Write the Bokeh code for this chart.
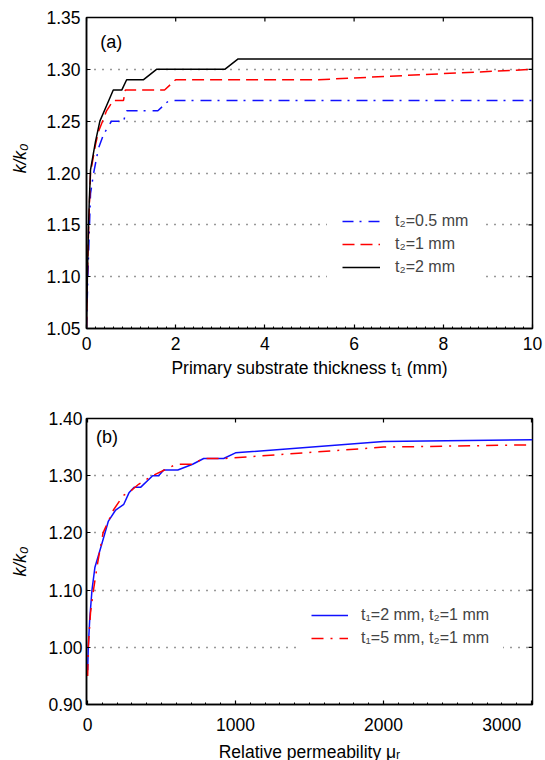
import math
from bokeh.plotting import figure
from bokeh.models import (Range1d, SingleIntervalTicker, FixedTicker,
                          NumeralTickFormatter, Legend, LegendItem, Label)
from bokeh.layouts import column
from bokeh.embed import file_html
from bokeh.resources import INLINE

FONT = "Liberation Sans"

# ---------------- data, panel (a) ----------------
t1_a_half = [0, 0.03, 0.06, 0.09, 0.16, 0.27, 0.38, 0.56, 0.83, 0.9, 1.6, 1.85, 10]
k_a_half = [1.05, 1.10, 1.14, 1.18, 1.20, 1.224, 1.237, 1.25, 1.25, 1.26, 1.26, 1.27, 1.27]

t1_a_one = [0, 0.02, 0.05, 0.09, 0.2, 0.27, 0.45, 0.6, 0.83, 0.87, 1.75, 2.0, 5.2, 10]
k_a_one = [1.05, 1.10, 1.15, 1.20, 1.227, 1.24, 1.26, 1.27, 1.27, 1.28, 1.28, 1.29, 1.29, 1.30]

t1_a_two = [0, 0.02, 0.04, 0.06, 0.09, 0.2, 0.3, 0.49, 0.6, 0.79, 0.9, 1.28, 1.57, 3.1, 3.4, 10]
k_a_two = [1.05, 1.10, 1.14, 1.17, 1.203, 1.23, 1.25, 1.269, 1.28, 1.28, 1.29, 1.29, 1.30, 1.30, 1.31, 1.31]

x_ticks_a = [0, 2, 4, 6, 8, 10]
y_ticks_a = [1.05, 1.10, 1.15, 1.20, 1.25, 1.30, 1.35]
labels_a = ["t\u2082=0.5 mm", "t\u2082=1 mm", "t\u2082=2 mm"]

# ---------------- data, panel (b) ----------------
mu_b_t2 = [1, 5, 15, 30, 50, 90, 140, 190, 245, 280, 315, 360, 440, 480, 515, 610, 710,
           785, 920, 1000, 2000, 3007]
k_b_t2 = [0.96, 1.00, 1.05, 1.10, 1.14, 1.175, 1.22, 1.24, 1.25, 1.27, 1.28, 1.28, 1.30,
          1.30, 1.31, 1.31, 1.32, 1.33, 1.33, 1.34, 1.36, 1.363]

mu_b_t5 = [1, 5, 20, 40, 70, 105, 175, 240, 300, 345, 440, 520, 600, 700, 785, 920, 2000, 3007]
k_b_t5 = [0.95, 1.00, 1.06, 1.10, 1.15, 1.20, 1.24, 1.265, 1.275, 1.285, 1.30, 1.31, 1.32,
          1.32, 1.33, 1.33, 1.35, 1.354]

x_ticks_b = [0, 1000, 2000, 3000]
y_ticks_b = [0.90, 1.00, 1.10, 1.20, 1.30, 1.40]
labels_b = ["t\u2081=2 mm, t\u2082=1 mm", "t\u2081=5 mm, t\u2082=1 mm"]

FS = "17.5px"


def frame_axes(p, xticker, yticker, xticks, yticks, x_std, y_std, xlab_std, ylab_std,
               xlabel, ylabel):
    xa = p.xaxis[0]
    ya = p.yaxis[0]
    xa.ticker = xticker
    ya.ticker = yticker
    ya.formatter = NumeralTickFormatter(format="0.00")
    for ax in (xa, ya):
        ax.major_label_text_font = FONT
        ax.major_label_text_font_size = FS
        ax.major_label_text_color = "black"
        ax.axis_label_text_font = FONT
        ax.axis_label_text_font_size = FS
        ax.axis_label_text_color = "black"
        ax.axis_label_text_font_style = "normal"
        ax.axis_line_width = 1.5
        ax.axis_line_color = "black"
        ax.major_tick_in = 4
        ax.major_tick_out = 0
        ax.major_tick_line_width = 1.2
        ax.minor_tick_in = 2
        ax.minor_tick_out = 0
    ya.minor_tick_line_color = None
    xa.major_label_standoff = x_std
    ya.major_label_standoff = y_std
    xa.axis_label_standoff = xlab_std
    ya.axis_label_standoff = ylab_std
    xa.axis_label = xlabel
    ya.axis_label = ylabel
    ya.axis_label_text_font_style = "italic"

    # mirrored inward ticks on the top and right frame edges (half of each dash is clipped)
    xr, yr = p.x_range, p.y_range
    p.scatter(xticks, [yr.end] * len(xticks), marker="dash", size=8, angle=math.pi / 2,
              line_color="black", line_width=1.2)
    p.scatter([xr.end] * len(yticks), yticks, marker="dash", size=8,
              line_color="black", line_width=1.2)

    p.xgrid.visible = False
    p.ygrid.grid_line_color = "#333333"
    p.ygrid.grid_line_dash = "1 7"
    p.ygrid.grid_line_width = 1.3
    p.outline_line_color = "black"
    p.outline_line_width = 1.5


# ---------------- panel (a) ----------------
pa = figure(frame_width=446, frame_height=311, x_range=Range1d(0, 10), y_range=Range1d(1.05, 1.35),
            output_backend="svg", toolbar_location=None,
            min_border_left=83, min_border_right=16, min_border_top=17, min_border_bottom=70)
frame_axes(pa, SingleIntervalTicker(interval=2, num_minor_ticks=10), FixedTicker(ticks=y_ticks_a),
           x_ticks_a, y_ticks_a, 8, 6, 5, 13,
           "Primary substrate thickness t\u2081 (mm)", "\u00a0" * 6 + "k/k\u2080")

ra1 = pa.line(t1_a_half, k_a_half, line_color="#1010ff", line_width=1.5, line_dash="11 6 2 7")
ra2 = pa.line(t1_a_one, k_a_one, line_color="#ff0000", line_width=1.5, line_dash="12 6")
ra3 = pa.line(t1_a_two, k_a_two, line_color="black", line_width=1.5)

leg_a = Legend(items=[LegendItem(label=labels_a[0], renderers=[ra1]),
                      LegendItem(label=labels_a[1], renderers=[ra2]),
                      LegendItem(label=labels_a[2], renderers=[ra3])],
               location=(241, 36), padding=15, spacing=3, glyph_width=38, glyph_height=20,
               label_height=20, label_standoff=15, label_text_font=FONT,
               label_text_font_size="16px", border_line_alpha=0,
               background_fill_color="white", background_fill_alpha=1, margin=0)
pa.add_layout(leg_a)
pa.add_layout(Label(x=0.31, y=1.326, text="(a)", text_font=FONT, text_font_size="18px",
                    text_baseline="middle", text_color="black"))

# ---------------- panel (b) ----------------
pb = figure(frame_width=446, frame_height=286, x_range=Range1d(-7, 3007), y_range=Range1d(0.90, 1.40),
            output_backend="svg", toolbar_location=None,
            min_border_left=86, min_border_right=13, min_border_top=20, min_border_bottom=56)
frame_axes(pb, SingleIntervalTicker(interval=1000, num_minor_ticks=10), FixedTicker(ticks=y_ticks_b),
           x_ticks_b, y_ticks_b, 10, 4, 4, 15,
           "Relative permeability \u03bc\u1d63", "k/k\u2080")
pb.xaxis[0].major_label_overrides = {3000: "3000" + "\u00a0" * 5}

rb1 = pb.line(mu_b_t2, k_b_t2, line_color="#1010ff", line_width=1.5)
rb2 = pb.line(mu_b_t5, k_b_t5, line_color="#ff0000", line_width=1.5, line_dash="12 7 2 7")

leg_b = Legend(items=[LegendItem(label=labels_b[0], renderers=[rb1]),
                      LegendItem(label=labels_b[1], renderers=[rb2])],
               location=(211, 42), padding=14, spacing=3, glyph_width=37, glyph_height=20,
               label_height=20, label_standoff=13, label_text_font=FONT,
               label_text_font_size="16px", border_line_alpha=0,
               background_fill_color="white", background_fill_alpha=1, margin=0)
pb.add_layout(leg_b)
pb.add_layout(Label(x=57, y=1.367, text="(b)", text_font=FONT, text_font_size="18px",
                    text_baseline="middle", text_color="black"))

layout = column(pa, pb)
open("out.html", "w").write(file_html(layout, INLINE))
